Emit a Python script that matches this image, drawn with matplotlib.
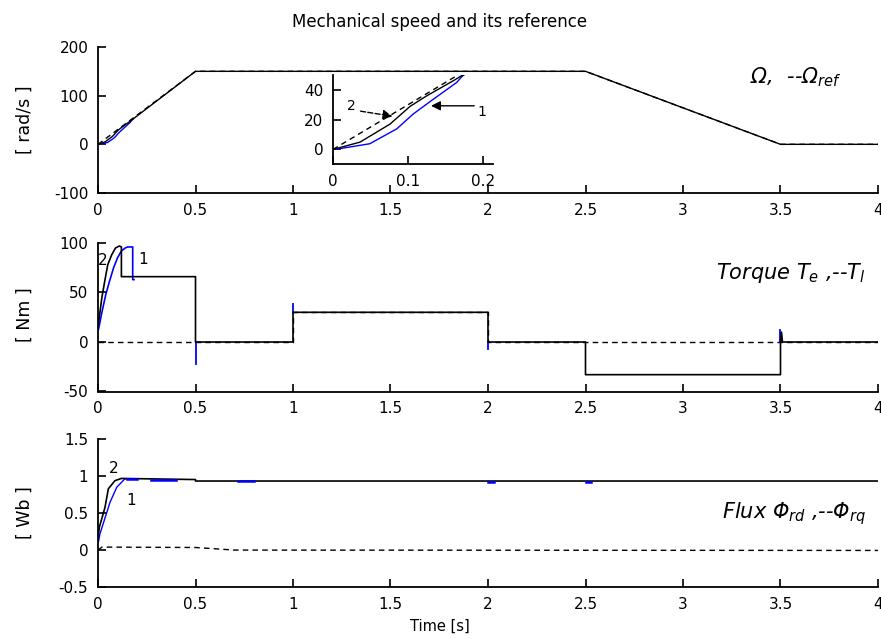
import matplotlib
matplotlib.use("Agg")
import matplotlib.pyplot as plt
from matplotlib.ticker import FuncFormatter

plt.rcParams["font.family"] = ["DejaVu Sans"]
plt.rcParams["axes.unicode_minus"] = False
plt.rcParams["mathtext.fontset"] = "custom"
plt.rcParams["mathtext.rm"] = "DejaVu Sans:italic"
plt.rcParams["mathtext.it"] = "DejaVu Sans:italic"
plt.rcParams["mathtext.sf"] = "DejaVu Sans:italic"

BLUE = "#0000ff"
INK = "black"
DASH = (0, (4, 3))

# ---- speed (rad/s) ----
ref_t = [0, 0.5, 2.5, 3.5, 4]
ref_w = [0, 150, 150, 0, 0]
spd2_t = [0, 0.036, 0.076, 0.103, 0.125, 0.16, 0.5, 2.5, 3.5, 4]        # method 2 (black)
spd2_w = [0, 4.9, 17, 29, 36, 46, 150, 150, 0, 0]
spd1_t = [0, 0.005, 0.049, 0.085, 0.107, 0.134, 0.165, 0.172, 0.18]     # method 1 (blue)
spd1_w = [0, 0.2, 3.8, 13.8, 23.8, 33.8, 45, 49, 52]

# ---- torque (Nm) ----
tl_t = [0, 1, 1, 2, 2, 4]
tl_v = [0, 0, 30, 30, 0, 0]
te2_t = [0, 0.01, 0.02, 0.035, 0.05, 0.07, 0.09, 0.11, 0.12, 0.12, 0.5, 0.5,
         1, 1, 2, 2, 2.5, 2.5, 3.5, 3.5, 3.505, 3.51, 4]
te2_v = [15, 30, 45, 62, 78, 88, 95, 97, 96, 66, 66, 0,
         0, 30, 30, 0, 0, -33, -33, 0, 10, 0, 0]
te1_t = [0.003, 0.02, 0.04, 0.06, 0.08, 0.1, 0.12, 0.14, 0.152, 0.178, 0.178, 0.185]
te1_v = [13, 30, 48, 62, 75, 85, 92, 95, 96, 96, 63, 63]
# blue switching spikes: (time, from, to)
sp_t = [0.5, 1.0, 2.0, 3.5]
sp_lo = [0, 30, -7, 0]
sp_hi = [-22, 38, 0, 12]

# ---- flux (Wb) ----
frd2_t = [0, 0.007, 0.036, 0.053, 0.087, 0.12, 0.5, 0.5, 4]
frd2_v = [0.15, 0.31, 0.58, 0.83, 0.94, 0.97, 0.955, 0.935, 0.935]
frd1_t = [0.003, 0.01, 0.062, 0.096, 0.138, 0.17]
frd1_v = [0.12, 0.22, 0.65, 0.85, 0.965, 0.965]
fblue_a = [0.15, 0.27, 0.72, 2.0, 2.5]
fblue_b = [0.2, 0.4, 0.8, 2.03, 2.53]
fblue_v = [0.962, 0.955, 0.93, 0.925, 0.925]
frq_t = [0, 0.02, 0.05, 0.5, 0.7, 4]
frq_v = [0.0, 0.04, 0.04, 0.035, 0.0, -0.005]

W, H = 881, 639
fig = plt.figure(figsize=(W / 100, H / 100), dpi=100)


def box(x0, y_top, x1, y_bot):
    return [x0 / W, 1 - y_bot / H, (x1 - x0) / W, (y_bot - y_top) / H]


fmt = FuncFormatter(lambda v, p: f"{v:g}")


def style(ax, yticks, ylim, xticks=(0, 0.5, 1, 1.5, 2, 2.5, 3, 3.5, 4), xlim=(0, 4), fs=11):
    ax.set_xlim(*xlim); ax.set_ylim(*ylim)
    ax.set_xticks(xticks); ax.set_yticks(yticks)
    ax.xaxis.set_major_formatter(fmt); ax.yaxis.set_major_formatter(fmt)
    for sp in ("top", "right"):
        ax.spines[sp].set_visible(False)
    for sp in ("left", "bottom"):
        ax.spines[sp].set_linewidth(1.3)
    ax.tick_params(direction="in", length=6, width=1.2, labelsize=fs)
    ax.tick_params(axis="x", pad=7)
    ax.tick_params(axis="y", pad=7)


ax1 = fig.add_axes(box(98, 47, 878, 193))
ax2 = fig.add_axes(box(98, 243, 878, 391.5))
ax3 = fig.add_axes(box(98, 439.3, 878, 587))

# speed
ax1.plot(spd1_t, spd1_w, color=BLUE, lw=1)
ax1.plot(spd2_t, spd2_w, color=INK, lw=1)
ax1.plot(ref_t, ref_w, color=INK, lw=1, ls=DASH)
style(ax1, [-100, 0, 100, 200], (-100, 200))
ax1.text(3.58, 138, r"$\Omega$,  --$\Omega_{ref}$", fontsize=15, style="italic",
         ha="center", va="center")

# inset zoom of speed start-up
axi = fig.add_axes(box(333, 75, 492.7, 164.3))
axi.plot(spd1_t, spd1_w, color=BLUE, lw=1)
axi.plot(spd2_t, spd2_w, color=INK, lw=1)
axi.plot(ref_t, ref_w, color=INK, lw=1, ls=DASH)
style(axi, [0, 20, 40], (-10, 50), xticks=(0, 0.1, 0.2), xlim=(0, 0.213))
axi.annotate("", xy=(0.083, 22), xytext=(0.033, 26),
             arrowprops=dict(arrowstyle="-|>", color=INK, lw=1, ls="--",
                             mutation_scale=14))
axi.text(0.025, 29, "2", fontsize=10, ha="center", va="center")
axi.annotate("", xy=(0.127, 29.3), xytext=(0.192, 29.3),
             arrowprops=dict(arrowstyle="-|>", color=INK, lw=1, mutation_scale=14))
axi.text(0.199, 25, "1", fontsize=10, ha="center", va="center")

# torque
ax2.plot(tl_t, tl_v, color=INK, lw=1, ls=DASH)
ax2.plot(te1_t, te1_v, color=BLUE, lw=1.2)
for t, a, b in zip(sp_t, sp_lo, sp_hi):
    ax2.plot([t, t], [a, b], color=BLUE, lw=1.3)
ax2.plot(te2_t, te2_v, color=INK, lw=1.2)
style(ax2, [-50, 0, 50, 100], (-50, 100))
ax2.text(0.025, 82, "2", fontsize=11, ha="center", va="center")
ax2.text(0.23, 83, "1", fontsize=11, ha="center", va="center")
ax2.text(3.55, 70, r"Torque $T_e$ ,--$T_l$", fontsize=15, style="italic",
         ha="center", va="center")

# flux
ax3.plot(frd1_t, frd1_v, color=BLUE, lw=1)
ax3.plot(frd2_t, frd2_v, color=INK, lw=1.2)
for a, b, v in zip(fblue_a, fblue_b, fblue_v):
    ax3.plot([a, b], [v, v], color=BLUE, lw=1.8)
ax3.plot(frq_t, frq_v, color=INK, lw=1, ls=DASH)
style(ax3, [-0.5, 0, 0.5, 1, 1.5], (-0.5, 1.5))
ax3.text(0.078, 1.1, "2", fontsize=11, ha="center", va="center")
ax3.text(0.17, 0.67, "1", fontsize=11, ha="center", va="center")
ax3.text(3.57, 0.49, r"Flux $\Phi_{rd}$ ,--$\Phi_{rq}$", fontsize=15, style="italic",
         ha="center", va="center")

# labels
fig.text(440 / W, 1 - 22 / H, "Mechanical speed and its reference", fontsize=12,
         ha="center", va="center")
fig.text(440 / W, 1 - 626 / H, "Time [s]", fontsize=10.5, ha="center", va="center")
for yc, lab in [(120, "[ rad/s ]"), (315, "[ Nm ]"), (513, "[ Wb ]")]:
    fig.text(25 / W, 1 - yc / H, lab, fontsize=12.5, rotation=90, ha="center", va="center")

fig.savefig("out.png", dpi=100)
